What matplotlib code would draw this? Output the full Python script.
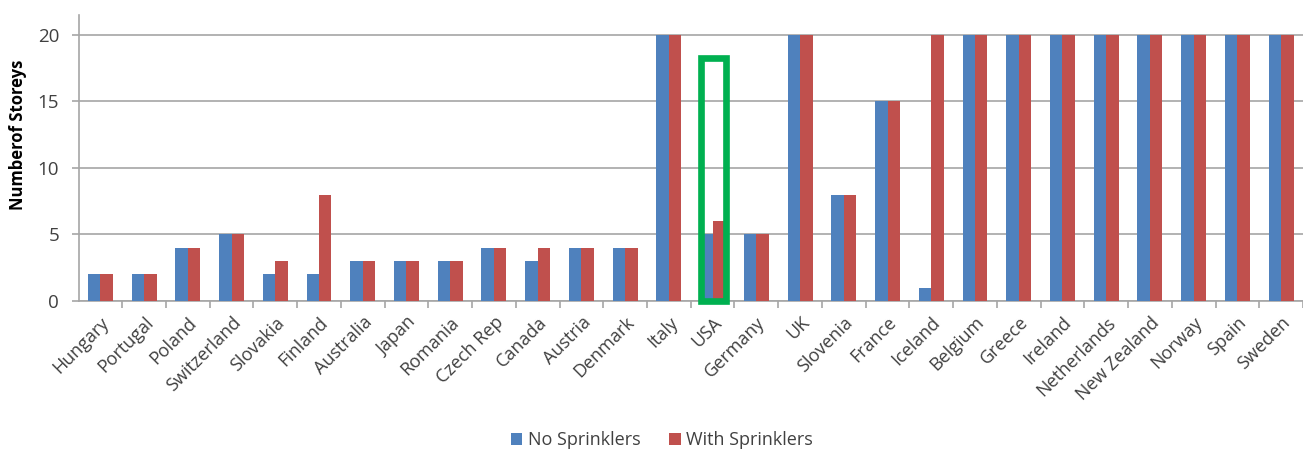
import matplotlib.pyplot as plt
import numpy as np
from matplotlib.patches import Rectangle

countries = ['Hungary', 'Portugal', 'Poland', 'Switzerland', 'Slovakia', 'Finland',
             'Australia', 'Japan', 'Romania', 'Czech Rep', 'Canada', 'Austria',
             'Denmark', 'Italy', 'USA', 'Germany', 'UK', 'Slovenia', 'France',
             'Iceland', 'Belgium', 'Greece', 'Ireland', 'Netherlands',
             'New Zealand', 'Norway', 'Spain', 'Sweden']
no_sprinklers = [2, 2, 4, 5, 2, 2, 3, 3, 3, 4, 3, 4, 4, 20, 5, 5, 20, 8, 15,
                 1, 20, 20, 20, 20, 20, 20, 20, 20]
with_sprinklers = [2, 2, 4, 5, 3, 8, 3, 3, 3, 4, 4, 4, 4, 20, 6, 5, 20, 8, 15,
                   20, 20, 20, 20, 20, 20, 20, 20, 20]

plt.rcParams['font.family'] = ['Open Sans', 'DejaVu Sans']

fig = plt.figure(figsize=(13.03, 4.51), dpi=100)
ax = fig.add_axes([78.5 / 1303, 150 / 451, 1 - 78.5 / 1303, 286 / 451])

x = np.arange(len(countries))
w = 0.285
ax.bar(x - w / 2, no_sprinklers, w, color='#4F81BD', label='No Sprinklers', zorder=3)
ax.bar(x + w / 2, with_sprinklers, w, color='#C0504D', label='With Sprinklers', zorder=3)

# green box round the USA pair
usa = countries.index('USA')
ax.add_patch(Rectangle((usa - 0.27, 0), 0.58, 18.23, fill=False,
                       edgecolor='#00B050', linewidth=4.8, zorder=4, clip_on=False))

ax.set_xlim(-0.5, 27.25)
ax.set_ylim(0, 21.5)
ax.set_yticks([0, 5, 10, 15, 20])
ax.yaxis.grid(True, color='#A6A6A6', linewidth=1.2, zorder=0)
ax.set_xticks(x)
ax.set_xticklabels(countries, rotation=45, ha='right', rotation_mode='anchor',
                   fontsize=13, color='#404040')
ax.set_xticks(np.arange(len(countries)) + 0.5, minor=True)
ax.tick_params(axis='x', which='major', length=0, pad=9)
ax.tick_params(axis='x', which='minor', length=5, color='#A6A6A6', width=1.2)
ax.tick_params(axis='y', length=5, color='#A6A6A6', width=1.2, labelsize=13.5,
               labelcolor='#404040', pad=9)
ax.set_ylabel('Numberof Storeys', fontsize=12, fontweight='bold')
ax.yaxis.set_label_coords(-0.042, 0.58)

for s in ['top', 'right']:
    ax.spines[s].set_visible(False)
for s in ['left', 'bottom']:
    ax.spines[s].set_color('#A6A6A6')
    ax.spines[s].set_linewidth(1.2)

fig.legend(loc='center', bbox_to_anchor=(0.508, 0.024), ncol=2, frameon=False,
           fontsize=13, handlelength=0.65, handleheight=0.65, columnspacing=1.6,
           handletextpad=0.3, labelcolor='#404040')

fig.savefig('out.png', dpi=100)
